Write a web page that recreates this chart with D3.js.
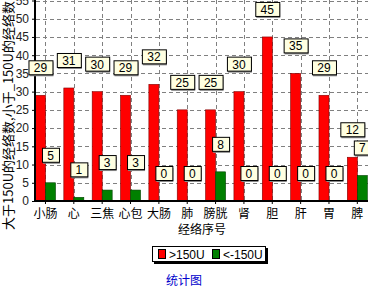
<!DOCTYPE html>
<html>
<head>
<meta charset="utf-8">
<style>
  body { margin: 0; background: #fff; }
  svg { display: block; }
  text { font-family: "Liberation Sans", Arial, "Noto Sans CJK SC", sans-serif; }
  .cjk { font-family: "Noto Sans CJK SC", sans-serif; }
</style>
</head>
<body>
<svg width="368" height="287"></svg>
<script src="https://cdn.jsdelivr.net/npm/d3@7/dist/d3.min.js"></script>
<script>

var categories = ["小肠", "心", "三焦", "心包", "大肠", "肺", "膀胱", "肾", "胆", "肝", "胃", "脾"],
    above = [29, 31, 30, 29, 32, 25, 25, 30, 45, 35, 29, 12],
    below = [5, 1, 3, 3, 0, 0, 8, 0, 0, 0, 0, 7],
    seriesNames = [">150U", "<-150U"],
    colors = ["#ff0000", "#008000"],
    yTicks = d3.range(0, 56, 5);

var svg = d3.select("svg");

var x = d3.scaleBand().domain(categories).range([31.3, 31.3 + 12 * 28.35]),
    y = d3.scaleLinear().domain([0, 55]).range([201, 0.5]),
    barW = 10;

function cx(d) { return x(d) + x.bandwidth() / 2; }

// grid
svg.append("g").selectAll("line.h")
    .data(yTicks.slice(1))
  .enter().append("line")
    .attr("x1", 36).attr("x2", 368)
    .attr("y1", function(d) { return Math.round(y(d)) + 0.5; })
    .attr("y2", function(d) { return Math.round(y(d)) + 0.5; })
    .attr("stroke", "#808080").attr("stroke-dasharray", "4,3");

svg.append("g").selectAll("line.v")
    .data(categories)
  .enter().append("line")
    .attr("x1", function(d) { return Math.round(cx(d)) + 0.5; })
    .attr("x2", function(d) { return Math.round(cx(d)) + 0.5; })
    .attr("y1", 0).attr("y2", 201)
    .attr("stroke", "#808080").attr("stroke-dasharray", "4,3");

// bars
var series = [above, below];
series.forEach(function(vals, si) {
  svg.append("g").selectAll("rect")
      .data(categories)
    .enter().append("rect")
      .attr("x", function(d) { return cx(d) - barW + si * barW; })
      .attr("y", function(d, i) { return y(vals[i]); })
      .attr("width", barW)
      .attr("height", function(d, i) { return y(0) - y(vals[i]); })
      .attr("fill", colors[si])
      .attr("stroke", si ? "#004000" : "#800000")
      .attr("stroke-width", 0.6);
});

// axes
var yAxis = d3.axisLeft(y).tickValues(yTicks).tickSize(3).tickPadding(3);
var gy = svg.append("g").attr("transform", "translate(35,0)").call(yAxis);
gy.select(".domain").remove();
gy.selectAll("text").attr("font-size", 12).attr("fill", "#222");
svg.append("line").attr("x1", 35).attr("x2", 35).attr("y1", 0).attr("y2", 202)
    .attr("stroke", "#000").attr("stroke-width", 2);

var xAxis = d3.axisBottom(x).tickSize(3).tickPadding(5);
var gx = svg.append("g").attr("transform", "translate(0,201)").call(xAxis);
gx.select(".domain").remove();
gx.selectAll("text").attr("class", "cjk").attr("font-size", 12).attr("fill", "#000");
svg.append("line").attr("x1", 34).attr("x2", 368).attr("y1", 201).attr("y2", 201)
    .attr("stroke", "#000").attr("stroke-width", 2);

svg.append("text").attr("class", "cjk")
    .attr("x", 202).attr("y", 234)
    .attr("text-anchor", "middle").attr("font-size", 12)
    .text("经络序号");

svg.append("text").attr("class", "cjk")
    .attr("transform", "translate(13,230) rotate(-90)")
    .attr("font-size", 13)
    .text("大于150U的经络数,小于_150U的经络数");

// value labels
series.forEach(function(vals, si) {
  var g = svg.append("g").selectAll("g")
      .data(categories)
    .enter().append("g")
      .attr("transform", function(d, i) {
        return "translate(" + (cx(d) - barW / 2 + si * barW) + "," + (y(vals[i]) - 20) + ")";
      });
  g.each(function(d, i) {
    var w = String(vals[i]).length > 1 ? 24 : 17, s = d3.select(this);
    s.append("rect").attr("x", -w / 2 + 1).attr("y", -13).attr("width", w).attr("height", 14)
        .attr("fill", "#888");
    s.append("rect").attr("x", -w / 2 + 0.5).attr("y", -14.5).attr("width", w).attr("height", 14)
        .attr("fill", "#ffffe1").attr("stroke", "#000");
    s.append("text").attr("y", -3).attr("text-anchor", "middle")
        .attr("font-size", 12).text(vals[i]);
  });
});

// legend
var lg = svg.append("g").attr("transform", "translate(152,246)");
lg.append("rect").attr("x", 2).attr("y", 2).attr("width", 114).attr("height", 16).attr("fill", "#000");
lg.append("rect").attr("x", 0.5).attr("y", 0.5).attr("width", 113).attr("height", 15)
    .attr("fill", "#fff").attr("stroke", "#000");
seriesNames.forEach(function(n, i) {
  var ox = 6 + i * 54;
  lg.append("rect").attr("x", ox + 0.5).attr("y", 3.5).attr("width", 7).attr("height", 9)
      .attr("fill", colors[i]).attr("stroke", "#000");
  lg.append("text").attr("x", ox + 11).attr("y", 12.5).attr("font-size", 12).text(n);
});

svg.append("text").attr("class", "cjk")
    .attr("x", 184).attr("y", 285)
    .attr("text-anchor", "middle").attr("font-size", 12).attr("fill", "#0000cc")
    .text("统计图");

</script>
</body>
</html>
